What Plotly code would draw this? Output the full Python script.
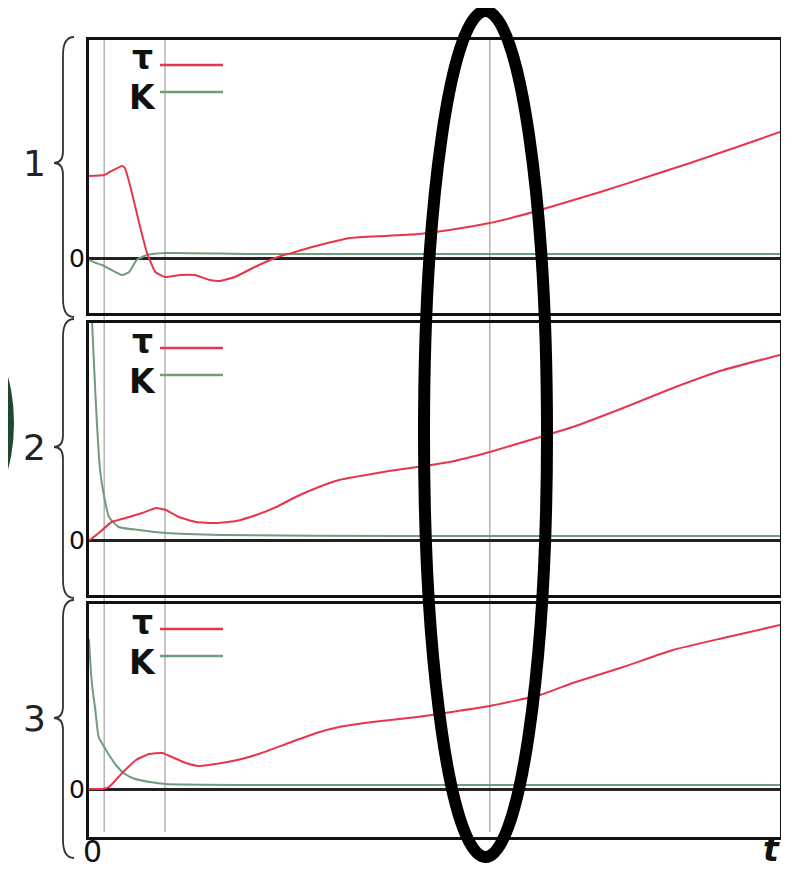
import plotly.graph_objects as go

# the page puts the plot 8px in from the top-left corner
OFF = 8
W, H = 789, 872
FW, FH = W - OFF, H - OFF

# horizontal axis: 0 = left frame, 100 = right frame
# vertical values: units above the zero line of each panel

p1_tau_t = [0, 2.2, 3.0, 4.8, 5.2, 6.0, 7.4, 8.4, 9.6, 11.0, 13.2, 15.3, 17.5, 18.9, 21.1, 24.0,
            26.9, 29.8, 33.4, 37.8, 42.8, 47.8, 52.2, 58.0, 64.3, 74.0, 81.2, 87.0, 94.2, 100]
p1_tau = [82, 83, 86, 92, 90, 71, 31, 5, -14, -19, -17, -17, -22, -23, -19, -9,
          0, 6, 13, 20, 22, 24, 28, 35, 46, 66, 82, 95, 112, 126]
p1_k_t = [0, 1.0, 1.9, 3.0, 4.8, 5.8, 6.9, 8.4, 11.1, 23.3, 45.0, 100]
p1_k = [-2, -5, -7, -11, -17, -14, -2, 3, 5, 4, 4, 4]

p2_tau_t = [0, 0.3, 1.4, 3.3, 5.8, 7.7, 9.7, 11.1, 13.0, 15.5, 18.4, 21.3, 24.2, 27.1, 29.9, 32.9,
            36.2, 40.1, 43.4, 47.5, 52.2, 58.0, 65.3, 70.0, 77.3, 84.5, 91.8, 100]
p2_tau = [0, 1, 7, 18, 23, 27, 32, 30, 23, 18, 17, 19, 25, 33, 43, 52,
          60, 65, 69, 73, 78, 88, 103, 113, 132, 152, 170, 185]
p2_k_t = [0, 0.4, 0.9, 1.2, 1.6, 2.2, 2.9, 4.3, 7.2, 11.1, 19.2, 45.0, 100]
p2_k = [300, 225, 150, 110, 70, 43, 23, 13, 10, 7, 5, 4, 4]

p3_tau_t = [0, 1.9, 2.9, 4.8, 6.8, 8.7, 10.6, 12.0, 14.0, 15.9, 19.2, 22.1, 25.0, 28.9, 32.9,
            36.2, 41.0, 47.5, 58.0, 65.3, 70.0, 77.3, 84.5, 91.8, 100]
p3_tau = [0, 0, 2, 16, 29, 35, 36, 32, 26, 23, 26, 30, 36, 46, 56,
          62, 67, 72, 83, 94, 106, 122, 139, 151, 164]
p3_k_t = [0, 0.3, 0.6, 0.9, 1.4, 2.2, 3.0, 4.0, 5.2, 6.7, 8.8, 11.1, 23.3, 100]
p3_k = [150, 115, 95, 80, 52, 42, 33, 23, 15, 10, 7, 5, 4, 4]

marker_t = [2.2, 11.0, 58.0]
panel_labels = ["1", "2", "3"]

RED = "#e8354c"
GREEN = "#6f9c7c"

# panel boxes in screen pixels: top, zero line, bottom
panels = [(40, 258, 313), (323, 540, 595), (604, 789, 837)]
X0, X1 = 89, 780


def px(x):
    return (x - OFF) / FW


def py(y):
    return 1 - (y - OFF) / FH


def label(x, y, text, size, color="#111", yanchor="middle"):
    return dict(x=px(x), y=py(y), xref="paper", yref="paper", text=text, showarrow=False,
                xanchor="center", yanchor=yanchor,
                font=dict(family="DejaVu Sans", size=size, color=color))


fig = go.Figure()

series = [(p1_tau_t, p1_tau, p1_k_t, p1_k),
          (p2_tau_t, p2_tau, p2_k_t, p2_k),
          (p3_tau_t, p3_tau, p3_k_t, p3_k)]

for i, (tt, tv, kt, kv) in enumerate(series):
    n = "" if i == 0 else str(i + 1)
    fig.add_trace(go.Scatter(x=kt, y=kv, mode="lines", xaxis="x" + n, yaxis="y" + n,
                             line=dict(color=GREEN, width=2, shape="spline", smoothing=0.5),
                             showlegend=False))
    fig.add_trace(go.Scatter(x=tt, y=tv, mode="lines", xaxis="x" + n, yaxis="y" + n,
                             line=dict(color=RED, width=2, shape="spline", smoothing=0.4),
                             showlegend=False))

layout = dict(width=FW, height=FH, margin=dict(l=0, r=0, t=0, b=0),
              paper_bgcolor="white", plot_bgcolor="white")
shapes = []
annotations = []

for i, (top, zero, bot) in enumerate(panels):
    n = "" if i == 0 else str(i + 1)
    layout["xaxis" + n] = dict(domain=[px(X0), px(X1)], range=[0, 100], anchor="y" + n,
                               showgrid=False, zeroline=False, showticklabels=False, ticks="",
                               showline=True, mirror=True, linecolor="#111", linewidth=3)
    layout["yaxis" + n] = dict(domain=[py(bot), py(top)], range=[-(bot - zero), zero - top],
                               anchor="x" + n, showgrid=False, zeroline=True,
                               zerolinecolor="#222", zerolinewidth=2.5,
                               showticklabels=False, ticks="",
                               showline=True, mirror=True, linecolor="#111", linewidth=3)

    annotations.append(label(77, zero, "0", 25))
    annotations.append(label(34, [163, 447, 718][i], panel_labels[i], 36, "#222"))
    # legend
    annotations.append(label(142, top + 18, "<b>τ</b>", 33))
    annotations.append(label(142, top + 58, "<b>K</b>", 33))
    shapes.append(dict(type="line", xref="paper", yref="paper", x0=px(160), x1=px(223),
                       y0=py(top + 25), y1=py(top + 25), line=dict(color=RED, width=2.5)))
    shapes.append(dict(type="line", xref="paper", yref="paper", x0=px(160), x1=px(223),
                       y0=py(top + 52), y1=py(top + 52), line=dict(color=GREEN, width=2.5)))

# curly braces left of each panel
brace_spans = [(37, 163, 317), (319, 447, 598), (600, 718, 858)]
for (bt, bm, bb) in brace_spans:
    xr, xs, xt = 74, 63, 54
    path = (f"M {px(xr)},{py(bt)} Q {px(xs)},{py(bt)} {px(xs)},{py(bt + 18)} "
            f"L {px(xs)},{py(bm - 12)} Q {px(xs)},{py(bm)} {px(xt)},{py(bm)} "
            f"Q {px(xs)},{py(bm)} {px(xs)},{py(bm + 12)} "
            f"L {px(xs)},{py(bb - 18)} Q {px(xs)},{py(bb)} {px(xr)},{py(bb)}")
    shapes.append(dict(type="path", xref="paper", yref="paper", path=path,
                       line=dict(color="#333", width=1.8)))

# vertical marker lines across all panels
for t in marker_t:
    shapes.append(dict(type="line", xref="x3", yref="paper", x0=t, x1=t,
                       y0=py(832), y1=py(40), line=dict(color="#a8a8a8", width=1.3), layer="below"))

# dark green blob at left edge
shapes.append(dict(type="circle", xref="paper", yref="paper", x0=px(-60), x1=px(14),
                   y0=py(508), y1=py(338), fillcolor="#1d4a2b", line=dict(width=0)))

# black ellipse drawn over the chart
shapes.append(dict(type="circle", xref="paper", yref="paper", x0=px(424), x1=px(547),
                   y0=py(857), y1=py(11), line=dict(color="black", width=12)))

# axis end labels
annotations.append(label(92, 871, "0", 30, yanchor="bottom"))
annotations.append(label(771, 871, "<b><i>t</i></b>", 33, yanchor="bottom"))

layout["shapes"] = shapes
layout["annotations"] = annotations
fig.update_layout(**layout)

fig.write_html("out.html")
